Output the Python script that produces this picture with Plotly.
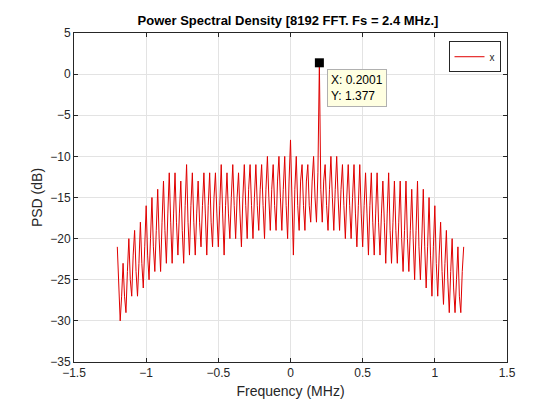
import numpy as np
import plotly.graph_objects as go

# frequency bins (MHz), 0.01 spacing from -1.2 to 1.2
freq = np.round(np.arange(-120, 121) / 100.0, 2)

psd = [
    -21, -26, -30, -27, -23, -27, -29, -24, -20, -25,
    -27, -22, -19, -24, -27, -23, -18, -23, -26, -21,
    -16, -22, -25, -20, -15, -21, -24, -19, -14, -20,
    -24, -18, -13, -19, -23, -17, -12, -18, -23, -17,
    -12, -18, -22, -17, -13, -19, -23, -16, -11, -18,
    -22, -16, -12, -18, -22, -17, -13, -18, -21, -16,
    -12, -17, -22, -16, -12, -18, -21, -15, -12, -17,
    -21, -16, -11, -17, -22, -16, -12, -17, -20, -15,
    -11, -16, -20, -15, -12, -17, -21, -15, -11, -16,
    -20, -14, -11, -16, -20, -15, -11, -16, -19, -14,
    -11, -16, -20, -14, -10, -15, -19, -14, -11, -16,
    -19, -13, -10, -15, -19, -14, -10, -16, -20, -13,
    -8, -15, -22, -14, -10, -16, -19, -13, -11, -16,
    -19, -13, -11, -16, -18, -13, -10, -15, -18, -12,
    1.377, -14, -18, -13, -11, -16, -19, -14, -10, -15,
    -19, -14, -10, -15, -19, -14, -11, -16, -20, -15,
    -11, -16, -20, -15, -11, -17, -21, -16, -11, -17,
    -21, -16, -12, -17, -22, -16, -12, -18, -22, -17,
    -12, -18, -22, -17, -13, -18, -23, -17, -12, -19,
    -23, -18, -13, -19, -23, -18, -13, -20, -24, -19,
    -13, -20, -24, -19, -14, -20, -25, -19, -13, -21,
    -25, -20, -14, -21, -26, -21, -15, -22, -27, -21,
    -16, -23, -27, -22, -18, -24, -28, -23, -19, -25,
    -29, -24, -20, -26, -29, -25, -21, -27, -29, -24,
    -21,
]

tip_x = 0.2001
tip_y = 1.377

grid = '#e3e3e3'
axis_color = '#262626'

fig = go.Figure()
fig.add_trace(go.Scatter(x=freq, y=psd, mode='lines', name='x',
                         line=dict(color='#e00000', width=1)))
# data tip marker
fig.add_trace(go.Scatter(x=[tip_x], y=[tip_y], mode='markers', showlegend=False,
                         marker=dict(symbol='square', size=9, color='black')))
fig.add_annotation(x=tip_x, y=tip_y, xref='x', yref='y',
                   text='X: 0.2001<br>Y: 1.377', showarrow=False,
                   xanchor='left', yanchor='top', xshift=8, yshift=-6,
                   align='left', bgcolor='#ffffe1', bordercolor='#b0b0b0',
                   borderwidth=1, borderpad=3,
                   font=dict(family='Liberation Sans, Arial', size=12, color='black'))

fig.update_layout(
    width=560, height=420,
    margin=dict(l=66, r=61, t=25, b=66),
    paper_bgcolor='white', plot_bgcolor='white',
    title=dict(text='<b>Power Spectral Density [8192 FFT. Fs = 2.4 MHz.]</b>',
               x=0.5, xanchor='center', y=0.97, yanchor='middle',
               font=dict(family='Liberation Sans, Arial', size=13, color='black')),
    font=dict(family='Liberation Sans, Arial', size=12, color=axis_color),
    legend=dict(x=0.985, y=0.975, xanchor='right', yanchor='top',
                bordercolor=axis_color, borderwidth=1, bgcolor='white',
                font=dict(size=10), itemwidth=30, tracegroupgap=0),
    showlegend=True,
)
fig.update_xaxes(range=[-1.5, 1.5], dtick=0.5, title_text='Frequency (MHz)',
                 title_standoff=6, showgrid=True, gridcolor=grid,
                 showline=True, linecolor=axis_color, mirror='ticks',
                 ticks='inside', ticklen=4, tickcolor=axis_color, zeroline=False)
fig.update_yaxes(range=[-35, 5], dtick=5, title_text='PSD (dB)',
                 title_standoff=4, showgrid=True, gridcolor=grid,
                 showline=True, linecolor=axis_color, mirror='ticks',
                 ticks='inside', ticklen=4, tickcolor=axis_color, zeroline=False)

fig.write_html('out.html')
